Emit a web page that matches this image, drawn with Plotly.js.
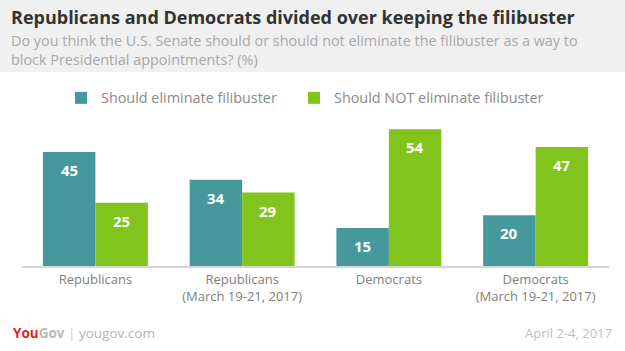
<!DOCTYPE html>
<html><head><meta charset="utf-8">
<script src="https://cdn.plot.ly/plotly-3.0.1.min.js"></script>
<style>html,body{margin:0;padding:0;background:#fff}#chart{width:625px;height:351px}</style>
</head><body><div id="chart"></div>
<script>
const categories = ["Republicans", "Republicans<br>(March 19-21, 2017)", "Democrats", "Democrats<br>(March 19-21, 2017)"];
const seriesNames = ["Should eliminate filibuster", "Should NOT eliminate filibuster"];
const eliminate = [45, 34, 15, 20];
const notEliminate = [25, 29, 54, 47];
const colors = ["#45999c", "#80c41c"];

const FONT = "'Open Sans', sans-serif";
const W = 625, H = 351, mL = 22, mR = 16, mT = 114, mB = 85;
const pw = W - mL - mR, ph = H - mT - mB;
const px = x => (x - mL) / pw;
const py = y => (H - mB - y) / ph;
const bargap = 0.285;
const barW = (1 - bargap) / 2;

const traces = [eliminate, notEliminate].map((vals, i) => ({
  type: "bar", name: seriesNames[i], x: categories.map((c, k) => k), y: vals,
  marker: {color: colors[i]}, hoverinfo: "none", legend: i === 0 ? "legend" : "legend2"
}));

const annotations = [];
[eliminate, notEliminate].forEach((vals, i) => {
  vals.forEach((v, k) => {
    annotations.push({x: k + (i === 0 ? -barW / 2 : barW / 2), y: v, xref: "x", yref: "y",
      text: "<b>" + v + "</b>", showarrow: false, yanchor: "middle", yshift: -18,
      font: {family: FONT, size: 15, color: "#ffffff"}});
  });
});
annotations.push(
  {xref: "paper", yref: "paper", x: px(9), y: py(17), xanchor: "left", yanchor: "middle", showarrow: false,
   text: "<b>Republicans and Democrats divided over keeping the filibuster</b>",
   font: {family: FONT, size: 18, color: "#333333"}},
  {xref: "paper", yref: "paper", x: px(9), y: py(50), xanchor: "left", yanchor: "middle", showarrow: false, align: "left",
   text: "Do you think the U.S. Senate should or should not eliminate the filibuster as a way to<br>block Presidential appointments? (%)",
   font: {family: FONT, size: 14.4, color: "#a8a8a8"}},
  {xref: "paper", yref: "paper", x: px(11), y: py(333), xanchor: "left", yanchor: "middle", showarrow: false,
   text: "<b><span style='color:#e2231a'>You</span><span style='color:#b9b9b9'>Gov</span></b><span style='color:#cccccc'> | </span><span style='color:#b5b5b5'>yougov.com</span>",
   font: {family: FONT, size: 13.5, color: "#b5b5b5"}},
  {xref: "paper", yref: "paper", x: px(614), y: py(333), xanchor: "right", yanchor: "middle", showarrow: false,
   text: "April 2-4, 2017", font: {family: FONT, size: 13, color: "#c0c0c0"}}
);

const legendBase = {orientation: "h", y: py(98), xanchor: "left", yanchor: "middle", itemclick: false,
  font: {family: FONT, size: 14.4, color: "#8a8a8a"}, bgcolor: "rgba(0,0,0,0)"};

const layout = {
  width: W, height: H, margin: {l: mL, r: mR, t: mT, b: mB},
  paper_bgcolor: "#ffffff", plot_bgcolor: "#ffffff",
  barmode: "group", bargap: bargap, bargroupgap: 0,
  showlegend: true,
  legend: Object.assign({}, legendBase, {x: px(61)}),
  legend2: Object.assign({}, legendBase, {x: px(294)}),
  xaxis: {tickvals: categories.map((c, k) => k), ticktext: categories, range: [-0.5, 3.5],
    showline: true, linecolor: "#d6d6d6", linewidth: 2, ticks: "", showgrid: false, zeroline: false,
    tickfont: {family: FONT, size: 13, color: "#808080"}, fixedrange: true},
  yaxis: {range: [0, 60], visible: false, showgrid: false, zeroline: false, fixedrange: true},
  shapes: [{type: "rect", xref: "paper", yref: "paper", x0: px(-5), x1: px(630), y0: py(72), y1: py(-5),
    fillcolor: "#f0f0f0", line: {width: 0}, layer: "below"}],
  annotations: annotations
};
Plotly.newPlot("chart", traces, layout, {displayModeBar: false, staticPlot: true});
</script></body></html>
